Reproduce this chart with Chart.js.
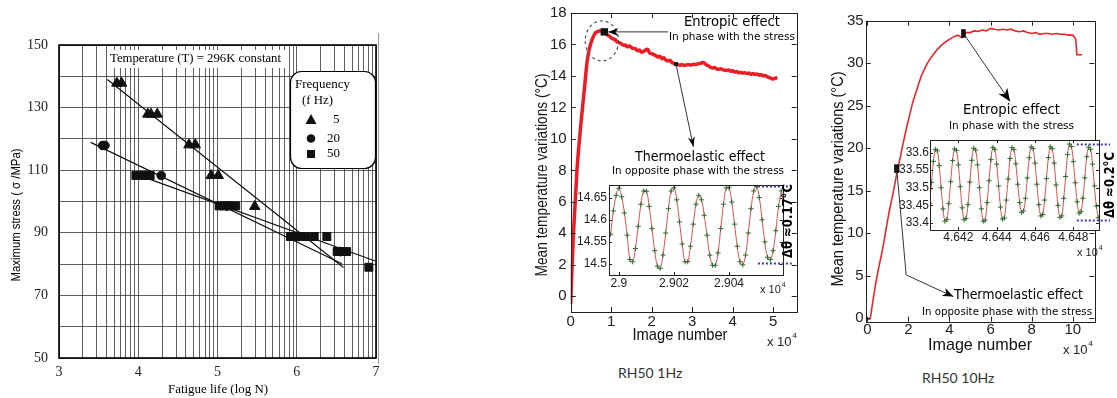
<!DOCTYPE html>
<html>
<head>
<meta charset="utf-8">
<title>Fatigue life and self-heating</title>
<script src="https://cdn.jsdelivr.net/npm/chart.js"></script>
<style>
  body { margin: 0; background: #fff; }
  #page { position: relative; width: 1117px; height: 398px; overflow: hidden; background: #fff; }
  #page canvas { position: absolute; }
  .caption { position: absolute; font-family: Lato, "Open Sans", sans-serif; font-size: 14px; color: #333; white-space: nowrap; }
</style>
</head>
<body>
<div id="page">
  <canvas id="fatigueChart"></canvas>
  <canvas id="lowFreqChart"></canvas>
  <canvas id="highFreqChart"></canvas>
  <canvas id="lowFreqInset"></canvas>
  <canvas id="highFreqInset"></canvas>
  <div class="caption" style="left:618px;top:364px">RH50 1Hz</div>
  <div class="caption" style="left:922px;top:369px">RH50 10Hz</div>
</div>
<script>
// ---- S-N panel: maximum stress vs fatigue life ----
const logNTicks = [3, 4, 5, 6, 7];
const paperDivisions = [1, 2, 3, 4, 5, 6, 7, 8, 9];
const stressTicks = [50, 70, 90, 110, 130, 150];
const stressGrid = [50, 60, 70, 80, 90, 100, 110, 120, 130, 140, 150];

const f5LogN = [3.73, 3.79, 4.12, 4.16, 4.24, 4.64, 4.72, 4.92, 5.01, 5.47];
const f5Stress = [137.8, 137.8, 127.9, 127.9, 127.9, 118.1, 118.1, 108.3, 108.3, 98.4];
const f20LogN = [3.55, 3.58, 4.29, 5.12, 6.02, 6.55];
const f20Stress = [117.9, 117.9, 108.3, 98.6, 88.8, 84.0];
const f50LogN = [3.97, 4.07, 4.15, 5.02, 5.08, 5.15, 5.23, 5.92, 6.0, 6.11, 6.22, 6.38, 6.51, 6.57, 6.63, 6.91];
const f50Stress = [108.3, 108.3, 108.3, 98.6, 98.6, 98.6, 98.6, 88.8, 88.8, 88.8, 88.8, 88.8, 84.0, 84.0, 84.0, 79.0];

const fit5LogN = [3.61, 6.59];
const fit5Stress = [139.0, 78.9];
const fit20LogN = [3.40, 6.57];
const fit20Stress = [118.9, 80.1];
const fit50LogN = [3.94, 6.99];
const fit50Stress = [109.0, 81.0];

// ---- RH50 1Hz: mean temperature vs image number (x 10^4) ----
const lowXTicks = [0, 1, 2, 3, 4, 5];
const lowYTicks = [0, 2, 4, 6, 8, 10, 12, 14, 16, 18];
const lowImage = [0, 0.01, 0.025, 0.045, 0.065, 0.09, 0.12, 0.16, 0.2, 0.25, 0.3, 0.35, 0.4, 0.45, 0.5,
  0.55, 0.6, 0.65, 0.7, 0.75, 0.8, 0.85, 0.9, 0.95, 1.0, 1.05, 1.1, 1.15, 1.2, 1.25, 1.3, 1.35,
  1.4, 1.45, 1.5, 1.55, 1.6, 1.65, 1.7, 1.75, 1.8, 1.85, 1.9, 1.95, 2.0, 2.05, 2.1, 2.15, 2.2,
  2.25, 2.3, 2.35, 2.4, 2.45, 2.5, 2.55, 2.6, 2.65, 2.7, 2.75, 2.8, 2.85, 2.9, 2.95, 3.0, 3.05,
  3.1, 3.15, 3.2, 3.25, 3.3, 3.35, 3.4, 3.45, 3.5, 3.55, 3.6, 3.65, 3.7, 3.75, 3.8, 3.85, 3.9,
  3.95, 4.0, 4.05, 4.1, 4.15, 4.2, 4.25, 4.3, 4.35, 4.4, 4.45, 4.5, 4.55, 4.6, 4.65, 4.7, 4.75,
  4.8, 4.85, 4.9, 4.95, 5.0, 5.05, 5.1];
const lowTemp = [-0.5, 0.2, 1.3, 2.6, 3.8, 5.0, 6.4, 8.2, 9.5, 10.9, 12.2, 13.5, 14.8, 15.6, 16.1,
  16.45, 16.7, 16.8, 16.85, 16.85, 16.8, 16.75, 16.62, 16.55, 16.42, 16.35, 16.3, 16.15, 16.12, 16.05,
  15.95, 15.97, 15.85, 15.9, 15.8, 15.75, 15.72, 15.6, 15.65, 15.5, 15.55, 15.65, 15.7, 15.45, 15.42,
  15.35, 15.3, 15.2, 15.25, 15.1, 15.15, 15.0, 14.95, 15.0, 14.85, 14.8, 14.75, 14.72, 14.68, 14.72,
  14.67, 14.7, 14.72, 14.69, 14.72, 14.75, 14.72, 14.78, 14.8, 14.86, 14.82, 14.7, 14.65, 14.55,
  14.5, 14.53, 14.45, 14.42, 14.46, 14.4, 14.37, 14.35, 14.38, 14.3, 14.33, 14.25, 14.28, 14.2,
  14.23, 14.18, 14.21, 14.15, 14.18, 14.1, 14.15, 14.1, 14.13, 14.05, 14.08, 14.0, 14.03, 13.95,
  13.9, 13.85, 13.8, 13.86, 13.9];

const lowInsetXTicks = [29000, 29020, 29040];
const lowInsetYTicks = [14.5, 14.55, 14.6, 14.65];
const lowInsetImage = [28997, 28998, 28999, 29000, 29001, 29002, 29003, 29004, 29005, 29006,
  29007, 29008, 29009, 29010, 29011, 29012, 29013, 29014, 29015, 29016,
  29017, 29018, 29019, 29020, 29021, 29022, 29023, 29024, 29025, 29026,
  29027, 29028, 29029, 29030, 29031, 29032, 29033, 29034, 29035, 29036,
  29037, 29038, 29039, 29040, 29041, 29042, 29043, 29044, 29045, 29046,
  29047, 29048, 29049, 29050, 29051, 29052, 29053, 29054, 29055, 29056,
  29057, 29058, 29059];
const lowInsetTemp = [14.567, 14.62, 14.655, 14.671, 14.652, 14.615, 14.565, 14.51, 14.505, 14.535,
  14.585, 14.635, 14.665, 14.664, 14.63, 14.58, 14.53, 14.495, 14.49, 14.52,
  14.57, 14.625, 14.665, 14.672, 14.645, 14.595, 14.545, 14.505, 14.505, 14.54,
  14.59, 14.635, 14.655, 14.645, 14.61, 14.565, 14.52, 14.497, 14.497, 14.525,
  14.58, 14.635, 14.672, 14.672, 14.64, 14.59, 14.54, 14.505, 14.498, 14.52,
  14.57, 14.625, 14.665, 14.675, 14.65, 14.6, 14.55, 14.515, 14.51, 14.53,
  14.575, 14.63, 14.665];

// ---- RH50 10Hz ----
const highXTicks = [0, 2, 4, 6, 8, 10];
const highYTicks = [0, 5, 10, 15, 20, 25, 30, 35];
const highImage = [0, 0.1, 0.15, 0.2, 0.3, 0.4, 0.5, 0.6, 0.7, 0.8, 0.9, 1.0, 1.1, 1.2, 1.3, 1.4,
  1.5, 1.6, 1.7, 1.8, 1.9, 2.0, 2.1, 2.2, 2.3, 2.4, 2.5, 2.6, 2.7, 2.8, 2.9, 3.0, 3.2, 3.4, 3.6,
  3.8, 4.0, 4.2, 4.4, 4.6, 4.8, 5.0, 5.2, 5.4, 5.6, 5.8, 6.0, 6.2, 6.4, 6.6, 6.8, 7.0, 7.2, 7.4,
  7.6, 7.8, 8.0, 8.2, 8.4, 8.6, 8.8, 9.0, 9.2, 9.4, 9.6, 9.8, 10.0, 10.1, 10.15, 10.2, 10.45];
const highTemp = [-0.1, -0.1, 0.1, 0.9, 2.5, 4.0, 5.3, 6.5, 7.6, 8.9, 10.3, 11.7, 13.0, 14.1, 15.3,
  16.6, 17.8, 18.9, 20.1, 21.2, 22.3, 23.3, 24.3, 25.3, 26.1, 26.8, 27.6, 28.3, 28.9, 29.4, 29.9,
  30.3, 31.0, 31.6, 32.1, 32.5, 32.8, 33.1, 33.3, 33.0, 33.6, 33.6, 33.8, 33.75, 33.9, 33.8, 34.1,
  34.0, 33.9, 34.0, 33.9, 34.0, 33.8, 33.7, 33.8, 33.6, 33.5, 33.6, 33.4, 33.5, 33.5, 33.4, 33.5,
  33.4, 33.4, 33.3, 33.3, 33.0, 32.8, 31.0, 31.0];

const highInsetXTicks = [46420, 46440, 46460, 46480];
const highInsetYTicks = [33.4, 33.45, 33.5, 33.55, 33.6];
const highInsetImage = [46405, 46406, 46407, 46408, 46409, 46410, 46411, 46412, 46413, 46414,
  46415, 46416, 46417, 46418, 46419, 46420, 46421, 46422, 46423, 46424,
  46425, 46426, 46427, 46428, 46429, 46430, 46431, 46432, 46433, 46434,
  46435, 46436, 46437, 46438, 46439, 46440, 46441, 46442, 46443, 46444,
  46445, 46446, 46447, 46448, 46449, 46450, 46451, 46452, 46453, 46454,
  46455, 46456, 46457, 46458, 46459, 46460, 46461, 46462, 46463, 46464,
  46465, 46466, 46467, 46468, 46469, 46470, 46471, 46472, 46473, 46474,
  46475, 46476, 46477, 46478, 46479, 46480, 46481, 46482, 46483, 46484,
  46485, 46486, 46487, 46488, 46489, 46490, 46491, 46492, 46493];
const highInsetTemp = [33.455, 33.515, 33.575, 33.609, 33.605, 33.563, 33.5, 33.44, 33.405, 33.41,
  33.455, 33.517, 33.577, 33.61, 33.606, 33.565, 33.503, 33.443, 33.409, 33.413,
  33.452, 33.516, 33.578, 33.612, 33.607, 33.565, 33.5, 33.44, 33.405, 33.408,
  33.458, 33.52, 33.58, 33.614, 33.609, 33.567, 33.505, 33.445, 33.411, 33.414,
  33.465, 33.525, 33.583, 33.614, 33.608, 33.568, 33.51, 33.458, 33.43, 33.434,
  33.47, 33.528, 33.585, 33.616, 33.611, 33.57, 33.51, 33.452, 33.42, 33.424,
  33.465, 33.526, 33.586, 33.616, 33.611, 33.57, 33.508, 33.45, 33.416, 33.42,
  33.47, 33.532, 33.594, 33.624, 33.617, 33.574, 33.514, 33.46, 33.428, 33.432,
  33.47, 33.528, 33.588, 33.615, 33.609, 33.567, 33.505, 33.448, 33.415];

const pts = (xs, ys) => xs.map((x, i) => ({ x, y: ys[i] }));

// canvas position on the page and the wanted plot rectangle (page pixels)
function place(id, box, area) {
  const canvas = document.getElementById(id);
  canvas.width = box.w;
  canvas.height = box.h;
  canvas.style.left = `${box.left}px`;
  canvas.style.top = `${box.top}px`;
  canvas.style.width = `${box.w}px`;
  canvas.style.height = `${box.h}px`;
  return {
    canvas,
    ox: box.left,
    oy: box.top,
    padding: { left: 0, top: area.top - box.top, right: box.left + box.w - area.right, bottom: 0 },
    yWidth: area.left - box.left,
    xHeight: box.top + box.h - area.bottom,
  };
}

function scale(slot, dir, min, max, values, fmt, font, padding, extra = {}) {
  return {
    type: 'linear',
    min,
    max,
    afterBuildTicks: (axis) => { axis.ticks = values.map((value) => ({ value })); },
    afterFit: (axis) => {
      if (dir === 'x') axis.height = slot.xHeight; else axis.width = slot.yWidth;
    },
    ticks: { autoSkip: false, maxRotation: 0, padding, font, color: '#222', callback: fmt },
    grid: { display: false, drawTicks: false },
    border: { display: false },
    ...extra,
  };
}

function options(slot, scales) {
  return {
    responsive: false,
    animation: false,
    devicePixelRatio: 1,
    layout: { padding: slot.padding },
    plugins: { legend: { display: false }, tooltip: { enabled: false } },
    scales,
  };
}

// text stretched to a given width; x is the left edge (or centre when centred)
function label(ctx, s, x, y, font, width, opts = {}) {
  ctx.save();
  ctx.font = font;
  ctx.fillStyle = opts.color || '#000';
  ctx.textBaseline = 'middle';
  ctx.textAlign = 'left';
  const w = ctx.measureText(s).width;
  ctx.translate(x, y);
  if (opts.rotate) ctx.rotate(opts.rotate);
  ctx.scale(width ? width / w : 1, 1);
  ctx.fillText(s, opts.center ? -w / 2 : 0, 0);
  ctx.restore();
}

function timesTen(ctx, x, y, size) {
  ctx.save();
  ctx.fillStyle = '#222';
  ctx.textBaseline = 'middle';
  ctx.font = `${size}px "Liberation Sans"`;
  ctx.fillText('x 10', x, y);
  const w = ctx.measureText('x 10').width;
  ctx.font = `${Math.round(size * 0.62)}px "Liberation Sans"`;
  ctx.fillText('4', x + w + 1, y - size * 0.45);
  ctx.restore();
}

function arrow(ctx, path, head, headWidth) {
  ctx.save();
  ctx.strokeStyle = '#333';
  ctx.lineWidth = 1;
  ctx.beginPath();
  ctx.moveTo(path[0][0], path[0][1]);
  path.slice(1).forEach(([px, py]) => ctx.lineTo(px, py));
  ctx.stroke();
  const [x1, y1] = path[path.length - 2];
  const [x2, y2] = path[path.length - 1];
  const a = Math.atan2(y2 - y1, x2 - x1);
  ctx.translate(x2, y2);
  ctx.rotate(a);
  ctx.fillStyle = '#000';
  ctx.beginPath();
  ctx.moveTo(0, 0);
  ctx.lineTo(-head, -headWidth / 2);
  ctx.lineTo(-head * 0.7, 0);
  ctx.lineTo(-head, headWidth / 2);
  ctx.closePath();
  ctx.fill();
  ctx.restore();
}

// MATLAB style box with ticks pointing inwards
function boxPlugin(len, whiteBack) {
  return {
    id: 'matlabBox',
    beforeDraw(chart) {
      if (!whiteBack) return;
      const { ctx, chartArea: a } = chart;
      ctx.save();
      ctx.fillStyle = '#fff';
      ctx.fillRect(a.left, a.top, a.right - a.left, a.bottom - a.top);
      ctx.restore();
    },
    afterDraw(chart) {
      const { ctx, chartArea: a, scales: { x, y } } = chart;
      ctx.save();
      ctx.strokeStyle = '#222';
      ctx.lineWidth = 1;
      ctx.beginPath();
      x.ticks.forEach((t) => {
        const px = Math.round(x.getPixelForValue(t.value)) + 0.5;
        ctx.moveTo(px, a.bottom); ctx.lineTo(px, a.bottom - len);
        ctx.moveTo(px, a.top); ctx.lineTo(px, a.top + len);
      });
      y.ticks.forEach((t) => {
        const py = Math.round(y.getPixelForValue(t.value)) + 0.5;
        ctx.moveTo(a.left, py); ctx.lineTo(a.left + len, py);
        ctx.moveTo(a.right, py); ctx.lineTo(a.right - len, py);
      });
      ctx.stroke();
      ctx.strokeRect(Math.round(a.left) + 0.5, Math.round(a.top) + 0.5,
        Math.round(a.right - a.left), Math.round(a.bottom - a.top));
      ctx.restore();
    },
  };
}

const tick = (v) => String(parseFloat(v.toFixed(3)));
const insetTick = (v) => String(v / 10000);

// ================= S-N chart =================
const snSlot = place('fatigueChart', { left: 0, top: 0, w: 390, h: 398 }, { left: 59, top: 45, right: 376, bottom: 358 });
const logGrid = [];
logNTicks.slice(0, -1).forEach((d) => paperDivisions.forEach((k) => logGrid.push(d + Math.log10(k))));
logGrid.push(logNTicks[logNTicks.length - 1]);

const serif = (size) => ({ family: 'Liberation Serif', size });
const gridLook = { color: 'rgba(55,55,55,0.8)', lineWidth: 1, drawTicks: false };

function marker(ctx, style, x, y) {
  ctx.beginPath();
  if (style === 'triangle') {
    ctx.moveTo(x, y - 6); ctx.lineTo(x + 5.5, y + 4); ctx.lineTo(x - 5.5, y + 4); ctx.closePath();
  } else if (style === 'circle') {
    ctx.arc(x, y, 4.3, 0, Math.PI * 2);
  } else {
    ctx.rect(x - 4, y - 4, 8, 8);
  }
  ctx.fill();
}

new Chart(snSlot.canvas, {
  type: 'scatter',
  data: {
    datasets: [
      { data: pts(fit5LogN, fit5Stress), showLine: true, pointRadius: 0, borderColor: '#111', borderWidth: 1.2 },
      { data: pts(fit20LogN, fit20Stress), showLine: true, pointRadius: 0, borderColor: '#111', borderWidth: 1.2 },
      { data: pts(fit50LogN, fit50Stress), showLine: true, pointRadius: 0, borderColor: '#111', borderWidth: 1.2 },
      { data: pts(f5LogN, f5Stress), pointStyle: 'triangle', pointRadius: 6, backgroundColor: '#111', borderColor: '#111' },
      { data: pts(f20LogN, f20Stress), pointStyle: 'circle', pointRadius: 4.3, backgroundColor: '#111', borderColor: '#111' },
      { data: pts(f50LogN, f50Stress), pointStyle: 'rect', pointRadius: 5.6, backgroundColor: '#111', borderColor: '#111' },
    ],
  },
  options: options(snSlot, {
    x: scale(snSlot, 'x', 3, 7, logGrid, (v) => (logNTicks.includes(v) ? String(v) : ''), serif(14), 6,
      { grid: gridLook }),
    y: scale(snSlot, 'y', 50, 150, stressGrid, (v) => (stressTicks.includes(v) ? String(v) : ''), serif(14), 11,
      { grid: gridLook }),
  }),
  plugins: [{
    id: 'snDecor',
    afterDraw(chart) {
      const { ctx, chartArea: a } = chart;
      ctx.save();
      ctx.strokeStyle = '#000';
      ctx.lineWidth = 1.6;
      ctx.strokeRect(a.left, a.top, a.right - a.left, a.bottom - a.top);
      ctx.fillStyle = '#fff';
      ctx.fillRect(107, 50, 178, 18);
      label(ctx, 'Temperature (T) = 296K constant', 110, 59, '13px "Liberation Serif"', 171);
      // legend
      ctx.beginPath();
      ctx.roundRect(290.5, 71.5, 85, 97, 11);
      ctx.fillStyle = '#fff';
      ctx.fill();
      ctx.lineWidth = 1.2;
      ctx.stroke();
      label(ctx, 'Frequency', 295, 84.5, '13px "Liberation Serif"', 55);
      label(ctx, '(f Hz)', 302, 101, '13px "Liberation Serif"', 31);
      ctx.fillStyle = '#111';
      marker(ctx, 'triangle', 311, 120);
      marker(ctx, 'circle', 311, 138.5);
      marker(ctx, 'rect', 311, 154);
      label(ctx, '5', 333, 120, '13px "Liberation Serif"', 6.5);
      label(ctx, '20', 327, 138.5, '13px "Liberation Serif"', 13);
      label(ctx, '50', 327, 154, '13px "Liberation Serif"', 13);
      // axis titles
      label(ctx, 'Maximum stress ( \u03c3 /MPa)', 16.5, 215, '12px "Liberation Sans"', 133, { rotate: -Math.PI / 2, center: true });
      label(ctx, 'Fatigue life (log N)', 218, 390, '13px "Liberation Serif"', 100, { center: true });
      ctx.strokeStyle = '#999';
      ctx.lineWidth = 1;
      ctx.beginPath();
      ctx.moveTo(378.5, 33);
      ctx.lineTo(378.5, 364);
      ctx.stroke();
      ctx.restore();
    },
  }],
});

// ================= RH50 1Hz =================
const sans = (size) => ({ family: 'Liberation Sans', size });
const noteFont = (size) => `${size}px "DejaVu Sans"`;

const lowSlot = place('lowFreqChart', { left: 530, top: 0, w: 290, h: 360 }, { left: 570.7, top: 12.7, right: 796.7, bottom: 312 });
new Chart(lowSlot.canvas, {
  type: 'scatter',
  data: {
    datasets: [{
      data: pts(lowImage, lowTemp), showLine: true, pointRadius: 0,
      borderColor: '#ec1c24', borderWidth: 3.5, cubicInterpolationMode: 'monotone',
    }],
  },
  options: options(lowSlot, {
    x: scale(lowSlot, 'x', 0, 5.58, lowXTicks, tick, sans(15), 1),
    y: scale(lowSlot, 'y', -1, 18, lowYTicks, tick, sans(15), 4),
  }),
  plugins: [boxPlugin(5, false), {
    id: 'lowDecor',
    afterDraw(chart) {
      const { ctx, scales: { x, y } } = chart;
      const o = lowSlot.ox;
      ctx.save();
      // dashed ring round the maximum
      ctx.strokeStyle = '#555';
      ctx.setLineDash([3, 3]);
      ctx.lineWidth = 1.2;
      ctx.beginPath();
      ctx.ellipse(x.getPixelForValue(0.77), y.getPixelForValue(16.23), 16.7, 20, 0, 0, Math.PI * 2);
      ctx.stroke();
      ctx.setLineDash([]);
      const sx = x.getPixelForValue(0.83);
      const sy = y.getPixelForValue(16.8);
      ctx.fillStyle = '#111';
      ctx.fillRect(sx - 3.7, sy - 3.7, 7.4, 7.4);
      arrow(ctx, [[668 - o, sy], [sx + 4, sy]], 10, 8);
      const tx = x.getPixelForValue(2.6);
      const ty = y.getPixelForValue(14.75);
      ctx.fillStyle = '#111';
      ctx.fillRect(tx - 2, ty - 2, 4, 4);
      arrow(ctx, [[tx, ty], [x.getPixelForValue(3.03), y.getPixelForValue(9.5)]], 10, 7);
      label(ctx, 'Entropic effect', 684 - o, 22, noteFont(14), 96);
      label(ctx, 'In phase with the stress', 669 - o, 36.7, noteFont(11), 126);
      label(ctx, 'Thermoelastic effect', 635 - o, 157, noteFont(14), 130);
      label(ctx, 'In opposite phase with the stress', 612 - o, 171, noteFont(11), 172);
      label(ctx, 'Mean temperature variations (\u00b0C)', 542.7 - o, 175, '16px "Liberation Sans"', 203, { rotate: -Math.PI / 2, center: true, color: '#111' });
      label(ctx, 'Image number', 680 - o, 335, '17px "Liberation Sans"', 95, { center: true, color: '#111' });
      timesTen(ctx, 767 - o, 342, 13);
      ctx.restore();
    },
  }],
});

// ================= RH50 10Hz =================
const highSlot = place('highFreqChart', { left: 825, top: 0, w: 292, h: 365 }, { left: 865.7, top: 20.7, right: 1094.3, bottom: 321.7 });
new Chart(highSlot.canvas, {
  type: 'scatter',
  data: {
    datasets: [{
      data: pts(highImage, highTemp), showLine: true, pointRadius: 0,
      borderColor: '#e8262d', borderWidth: 1.6,
    }],
  },
  options: options(highSlot, {
    x: scale(highSlot, 'x', -0.08, 11.05, highXTicks, tick, sans(15), -1),
    y: scale(highSlot, 'y', -0.4, 35, highYTicks, tick, sans(15), 2),
  }),
  plugins: [boxPlugin(5, false), {
    id: 'highDecor',
    afterDraw(chart) {
      const { ctx, scales: { x, y } } = chart;
      const o = highSlot.ox;
      ctx.save();
      const ax = x.getPixelForValue(1.43);
      const ay = y.getPixelForValue(17.6);
      arrow(ctx, [[ax, ay], [x.getPixelForValue(1.89), y.getPixelForValue(5.1)], [x.getPixelForValue(4.19), y.getPixelForValue(2.55)]], 11, 9);
      ctx.fillStyle = '#111';
      ctx.fillRect(ax - 2.6, ay - 4.3, 5.2, 8.6);
      const bx = x.getPixelForValue(4.68);
      const by = y.getPixelForValue(33.5);
      arrow(ctx, [[bx, by], [x.getPixelForValue(6.95), y.getPixelForValue(25.5)]], 13, 11);
      ctx.fillStyle = '#111';
      ctx.fillRect(bx - 2.3, by - 4.3, 4.6, 8.6);
      label(ctx, 'Entropic effect', 963 - o, 110, noteFont(14), 97);
      label(ctx, 'In phase with the stress', 949 - o, 125.7, noteFont(11), 125);
      label(ctx, 'Thermoelastic effect', 954 - o, 295, noteFont(14), 129);
      label(ctx, 'In opposite phase with the stress', 922 - o, 311.7, noteFont(11), 170);
      label(ctx, 'Mean temperature variations (\u00b0C)', 838.3 - o, 179, '16px "Liberation Sans"', 215, { rotate: -Math.PI / 2, center: true, color: '#111' });
      label(ctx, 'Image number', 980 - o, 345, '17px "Liberation Sans"', 104, { center: true, color: '#111' });
      timesTen(ctx, 1063 - o, 350, 13);
      ctx.restore();
    },
  }],
});

// ================= insets =================
function insetChart(id, box, area, xs, ys, xMin, xMax, yMin, yMax, xTicks, yTicks, swing) {
  const slot = place(id, box, area);
  new Chart(slot.canvas, {
    type: 'scatter',
    data: {
      datasets: [{
        data: pts(xs, ys), showLine: true, tension: 0.4,
        borderColor: '#e05050', borderWidth: 1,
        pointStyle: 'cross', pointRadius: 2.6, pointBorderColor: '#2f6e32', pointBorderWidth: 1,
      }],
    },
    options: options(slot, {
      x: scale(slot, 'x', xMin, xMax, xTicks, insetTick, sans(12), swing.xPad),
      y: scale(slot, 'y', yMin, yMax, yTicks, tick, sans(12), swing.yPad),
    }),
    plugins: [boxPlugin(3, true), {
      id: 'swing',
      afterDraw(chart) {
        const { ctx, chartArea: a, scales: { x, y } } = chart;
        ctx.save();
        ctx.strokeStyle = '#3a3a9c';
        ctx.lineWidth = 2;
        ctx.setLineDash([2, 2]);
        ctx.beginPath();
        [swing.top, swing.bottom].forEach((v) => {
          const py = Math.round(y.getPixelForValue(v)) + 0.5;
          ctx.moveTo(x.getPixelForValue(swing.from), py);
          ctx.lineTo(a.right + swing.reach, py);
        });
        ctx.stroke();
        ctx.restore();
        label(ctx, swing.text, swing.tx - slot.ox, swing.ty - slot.oy, 'bold 14px "DejaVu Sans"', swing.tw, { rotate: -Math.PI / 2, center: true });
        timesTen(ctx, swing.mx - slot.ox, swing.my - slot.oy, 11);
      },
    }],
  });
}

insetChart('lowFreqInset', { left: 575, top: 176, w: 225, h: 122 }, { left: 609, top: 181, right: 782.7, bottom: 275 },
  lowInsetImage, lowInsetTemp, 28996.4, 29059.5, 14.475, 14.678, lowInsetXTicks, lowInsetYTicks,
  { top: 14.677, bottom: 14.503, from: 29050.5, reach: 9, text: '\u0394\u03b8 \u22480.17\u00b0C', tx: 788, ty: 221, tw: 74,
    mx: 760, my: 290, xPad: 1, yPad: 2 });

insetChart('highFreqInset', { left: 893, top: 132, w: 224, h: 126 }, { left: 930, top: 136, right: 1099, bottom: 230 },
  highInsetImage, highInsetTemp, 46405.2, 46493.4, 33.38, 33.635, highInsetXTicks, highInsetYTicks,
  { top: 33.624, bottom: 33.409, from: 46481.8, reach: 11, text: '\u0394\u03b8 \u22480.2\u00b0C', tx: 1110, ty: 185, tw: 66,
    mx: 1077, my: 253, xPad: 0, yPad: 1 });
</script>
</body>
</html>
